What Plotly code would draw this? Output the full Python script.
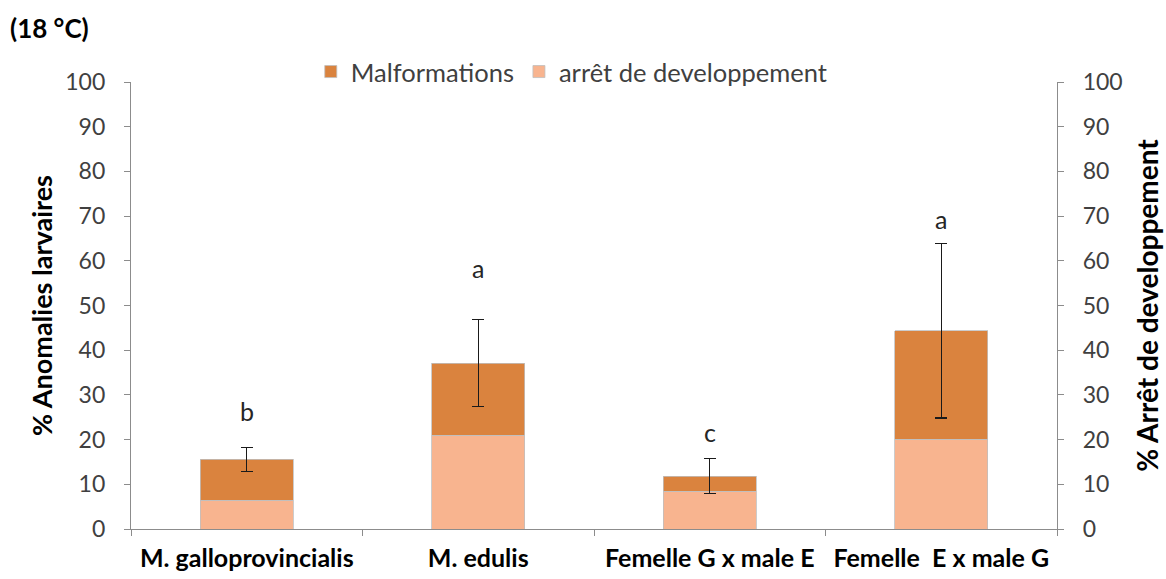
import plotly.graph_objects as go

# Larval anomalies at 18 °C, stacked by type, with SE bars on the total
categories = ["M. galloprovincialis", "M. edulis", "Femelle G x male E", "Femelle  E x male G"]
arret = [6.4, 21.0, 8.5, 20.1]
malformations = [9.2, 16.1, 3.3, 24.2]
erreur = [2.7, 9.7, 3.9, 19.5]
lettres = ["b", "a", "c", "a"]
lettre_y = [26.4, 58.4, 21.7, 69.4]

FONT = "Lato"
DARK = "#DA833E"
LIGHT = "#F8B48F"
AXIS_GREY = "#8C8C8C"
TXT = "#404040"

fig = go.Figure()
fig.add_trace(go.Bar(
    x=categories, y=arret, name="arrêt de developpement",
    marker=dict(color=LIGHT, line=dict(color="#BFBFBF", width=0.8)),
    width=0.4,
))
fig.add_trace(go.Bar(
    x=categories, y=malformations, name="Malformations",
    marker=dict(color=DARK, line=dict(color="#BFBFBF", width=0.8)),
    width=0.4,
    error_y=dict(type="data", array=erreur, visible=True,
                 color="#1A1A1A", thickness=1.3, width=6),
))
# invisible anchor so the secondary (right) axis is rendered
fig.add_trace(go.Scatter(x=[categories[0]], y=[0], yaxis="y2", mode="markers",
                         marker=dict(opacity=0), showlegend=False, hoverinfo="skip"))

for cat, txt, yy in zip(categories, lettres, lettre_y):
    fig.add_annotation(x=cat, y=yy, text=txt, showarrow=False,
                       font=dict(family=FONT, size=25, color="#262626"))

fig.add_annotation(xref="paper", yref="paper", x=-0.133, y=1.12,
                   xanchor="left", yanchor="middle", showarrow=False,
                   text="<b>(18 °C)</b>",
                   font=dict(family=FONT, size=26, color="#000000"))

fig.update_layout(
    width=1166, height=579,
    margin=dict(l=131, r=109, t=82, b=50, autoexpand=False),
    barmode="stack",
    plot_bgcolor="white", paper_bgcolor="white",
    font=dict(family=FONT, size=24, color=TXT),
    showlegend=True,
    legend=dict(orientation="h", x=0.476, xanchor="center", y=1.075, yanchor="top",
                traceorder="reversed", font=dict(family=FONT, size=25.5, color=TXT),
                itemwidth=30, bgcolor="rgba(0,0,0,0)"),
    xaxis=dict(showline=True, linecolor=AXIS_GREY, linewidth=1.2,
               ticks="outside", tickson="boundaries", ticklen=6, tickcolor=AXIS_GREY,
               ticklabelstandoff=7,
               tickfont=dict(family=FONT, size=25, color="#000000", weight="bold"),
               showgrid=False),
    yaxis=dict(range=[0, 100], dtick=10, showline=True, linecolor=AXIS_GREY, linewidth=1.2,
               ticks="outside", ticklen=6, tickcolor=AXIS_GREY, showgrid=False, zeroline=False,
               ticklabelstandoff=14, tickfont=dict(size=23, color=TXT),
               title=dict(text="<b>% Anomalies larvaires</b>", standoff=4,
                          font=dict(family=FONT, size=27, color="#000000"))),
    yaxis2=dict(range=[0, 100], dtick=10, overlaying="y", side="right", showline=True,
                linecolor=AXIS_GREY, linewidth=1.2, ticks="outside", ticklen=6,
                tickcolor=AXIS_GREY, showgrid=False, zeroline=False,
                ticklabelstandoff=14, tickfont=dict(size=23, color=TXT),
                title=dict(text="<b>% Arrêt de developpement</b>", standoff=16,
                           font=dict(family=FONT, size=28, color="#000000"))),
)

fig.write_html("out.html")
